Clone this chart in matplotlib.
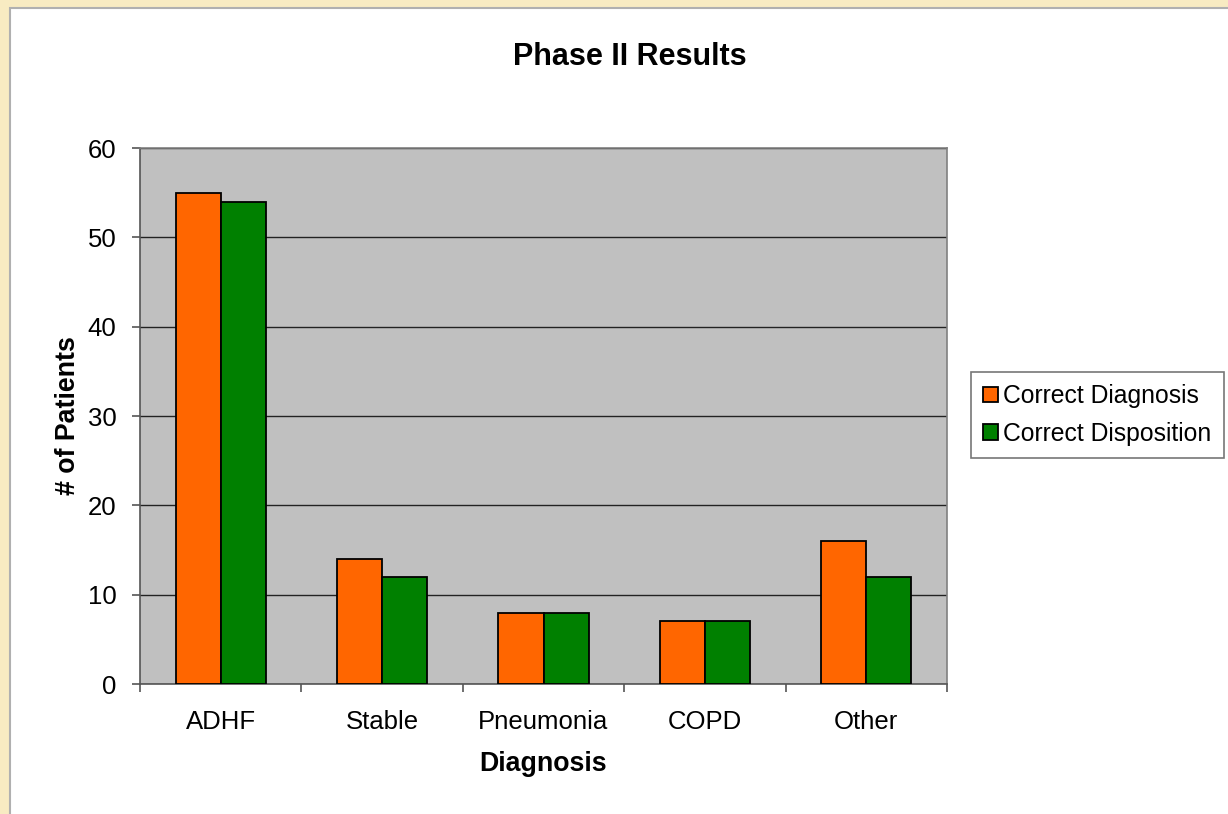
import matplotlib
matplotlib.use("Agg")
import matplotlib.pyplot as plt
from matplotlib.patches import Rectangle
import numpy as np

plt.rcParams['font.family'] = ['Liberation Sans', 'DejaVu Sans']

categories = ["ADHF", "Stable", "Pneumonia", "COPD", "Other"]
correct_diagnosis = [55, 14, 8, 7, 16]
correct_disposition = [54, 12, 8, 7, 12]
y_ticks = [0, 10, 20, 30, 40, 50, 60]

fig = plt.figure(figsize=(12.28, 8.14), dpi=100)
fig.patch.set_facecolor("#F8EBC2")
# white chart area with cream strip on top/left
fig.patches.append(Rectangle((10 / 1228, -0.01), 1.02, 1 - 8 / 814 + 0.01,
                             transform=fig.transFigure, facecolor="white",
                             edgecolor="#B0B0B0", linewidth=1.5, zorder=-10))

ax = fig.add_axes([140 / 1228, 1 - 684 / 814, (947 - 140) / 1228, (684 - 148) / 814])
ax.set_facecolor("#C0C0C0")

x = np.arange(len(categories))
w = 0.28
ax.bar(x - w / 2, correct_diagnosis, w, color="#FF6600", edgecolor="black",
       linewidth=1.3, label="Correct Diagnosis", zorder=3)
ax.bar(x + w / 2, correct_disposition, w, color="#008000", edgecolor="black",
       linewidth=1.3, label="Correct Disposition", zorder=3)

ax.set_xlim(-0.5, len(categories) - 0.5)
ax.set_ylim(0, 60)
ax.set_yticks(y_ticks)
ax.yaxis.grid(True, color="#222222", linewidth=1.0, zorder=1)
ax.set_axisbelow(True)

ax.set_xticks(x)
ax.set_xticklabels(categories, fontsize=18.5)
ax.set_xticks(np.arange(len(categories) + 1) - 0.5, minor=True)
ax.tick_params(axis="x", which="major", length=0, pad=19)
ax.tick_params(axis="x", which="minor", length=6, width=1.2, color="#555555")
ax.tick_params(axis="y", labelsize=18.5, length=6, width=1.2, color="#555555", pad=11)

for s in ["top", "right"]:
    ax.spines[s].set_color("#808080")
    ax.spines[s].set_linewidth(1.2)
for s in ["left", "bottom"]:
    ax.spines[s].set_color("#555555")
    ax.spines[s].set_linewidth(1.2)

ax.set_xlabel("Diagnosis", fontsize=19.3, fontweight="bold", labelpad=12)
ax.set_ylabel("# of Patients", fontsize=19.3, fontweight="bold", labelpad=5)
fig.text(630 / 1228, 1 - 57 / 814, "Phase II Results", fontsize=22,
         fontweight="bold", ha="center", va="center")

leg = fig.legend(loc="upper left", bbox_to_anchor=(971 / 1228, 1 - 372 / 814),
                 bbox_transform=fig.transFigure, fontsize=17.8, frameon=True,
                 fancybox=False, handlelength=0.6, handleheight=0.6,
                 handletextpad=0.2, borderaxespad=0, borderpad=0.5,
                 labelspacing=0.55)
leg.get_frame().set_edgecolor("#555555")
leg.get_frame().set_linewidth(1.2)

fig.savefig("out.png", dpi=100, facecolor=fig.get_facecolor())
